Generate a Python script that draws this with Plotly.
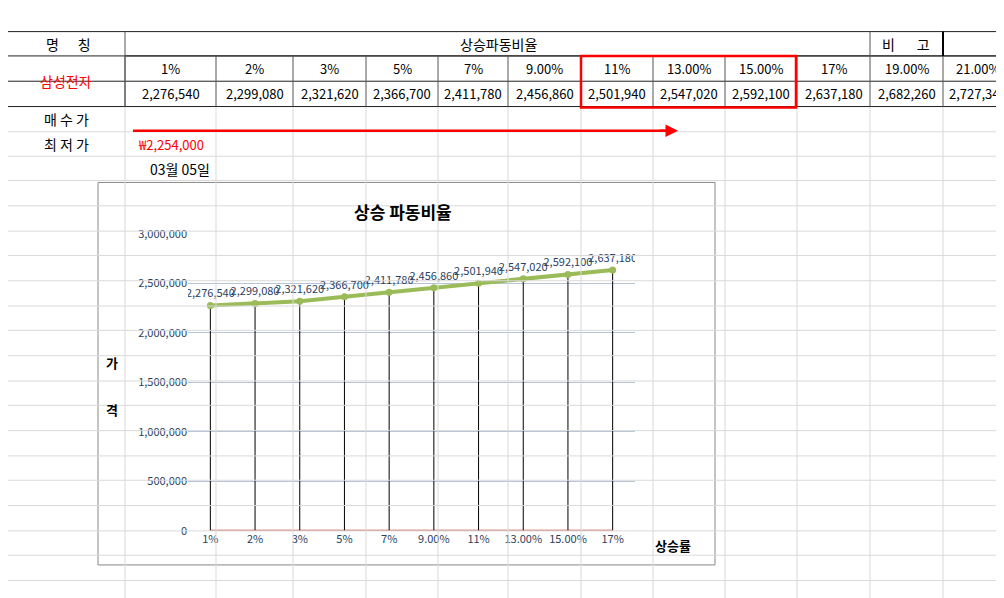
import plotly.graph_objects as go

W, H = 1004, 598

# chart data
categories = ["1%", "2%", "3%", "5%", "7%", "9.00%", "11%", "13.00%", "15.00%", "17%"]
prices = [2276540, 2299080, 2321620, 2366700, 2411780, 2456860, 2501940, 2547020, 2592100, 2637180]

# spreadsheet data
table_rates = ["1%", "2%", "3%", "5%", "7%", "9.00%", "11%", "13.00%", "15.00%", "17%", "19.00%", "21.00%"]
table_prices = ["2,276,540", "2,299,080", "2,321,620", "2,366,700", "2,411,780", "2,456,860",
                "2,501,940", "2,547,020", "2,592,100", "2,637,180", "2,682,260", "2,727,340"]
col_edges = [0, 117, 208, 285, 358, 430, 500, 573, 645, 717, 789, 862, 935, 1004]
row_edges = [15, 40, 66, 92, 118, 143, 168, 194, 220, 245, 271, 297, 322, 348,
             374, 399, 425, 451, 476, 502, 528, 553, 579]

FONT = "Noto Sans CJK KR, Malgun Gothic, sans-serif"


def px(x):
    return x / W


def py(y):
    return 1 - y / H


shapes = []
annotations = []


def line(x0, y0, x1, y1, color, width=1):
    shapes.append(dict(type="line", xref="paper", yref="paper", x0=px(x0), y0=py(y0),
                       x1=px(x1), y1=py(y1), line=dict(color=color, width=width)))


def text(x, y, s, color="black", size=14, xanchor="center", bold=False):
    annotations.append(dict(xref="paper", yref="paper", x=px(x), y=py(y), text=f"<b>{s}</b>" if bold else s,
                            showarrow=False, xanchor=xanchor, yanchor="middle",
                            font=dict(color=color, size=size, family=FONT)))


# light sheet grid
for y in row_edges[3:]:
    line(0, y, W, y, "#d9d9d9")
for x in col_edges[1:]:
    line(x, 92, x, H, "#d9d9d9")

# table lines
for y in [15, 40, 66, 92]:
    line(0, y, W, y, "#222", 1)
line(117, 40, W, 40, "#222", 1)
for x in col_edges[1:-1]:
    line(x, 40, x, 92, "#555", 1)
line(117, 15, 117, 92, "#555", 1)
line(862, 15, 862, 40, "#555", 1)
line(935, 15, 935, 40, "#000", 2)

# headers
text(60, 28, "명      칭", size=14)
text(490, 28, "상승파동비율", size=14)
text(898, 28, "비       고", size=14)
text(58, 66, "삼성전자", color="red", size=14)
for i, (r, p) in enumerate(zip(table_rates, table_prices)):
    cx = (col_edges[i + 1] + col_edges[i + 2]) / 2
    text(cx, 53, r, size=13)
    text(cx, 79, p, size=13)
text(58, 105, "매 수 가", size=14)
text(58, 131, "최 저 가", size=14)
text(128, 131, "₩2,254,000", color="red", size=13, xanchor="left")
text(140, 156, "03월 05일", size=14, xanchor="left")

# red highlight box and arrow
shapes.append(dict(type="rect", xref="paper", yref="paper", x0=px(573), x1=px(788), y0=py(40), y1=py(93),
                   line=dict(color="red", width=2.5)))
line(125, 117, 660, 117, "red", 2.5)
annotations.append(dict(xref="paper", yref="paper", axref="pixel", ayref="pixel",
                        x=px(670), y=py(117), ax=-20, ay=0, text="", showarrow=True,
                        arrowhead=2, arrowsize=1, arrowwidth=2.5, arrowcolor="red"))

# chart box
shapes.append(dict(type="rect", xref="paper", yref="paper", x0=px(90), x1=px(707), y0=py(170), y1=py(563),
                   fillcolor="white", line=dict(color="#888", width=1), layer="below"))
text(395, 200, "상승 파동비율", size=17, bold=True)
text(104, 355, "가", size=13, bold=True)
text(104, 403, "격", size=13, bold=True)
text(665, 543, "상승률", size=13, bold=True)

fig = go.Figure()
fig.add_trace(go.Scatter(x=categories, y=[0] * len(categories), mode="lines",
                         line=dict(color="#c0392b", width=2), hoverinfo="skip"))
fig.add_trace(go.Scatter(
    x=categories, y=prices, mode="lines+markers+text",
    line=dict(color="#9bbb59", width=4), marker=dict(color="#9bbb59", size=7),
    text=[f"{v:,}" for v in prices], textposition="top center",
    textfont=dict(size=11, family=FONT),
    error_y=dict(type="data", symmetric=False, array=[0] * len(prices), arrayminus=prices,
                 color="black", thickness=1, width=0),
))

fig.update_layout(
    width=W, height=H, margin=dict(l=0, r=0, t=0, b=0),
    paper_bgcolor="white", plot_bgcolor="rgba(0,0,0,0)", showlegend=False,
    font=dict(family=FONT),
    shapes=shapes, annotations=annotations,
    xaxis=dict(domain=[px(180), px(627)], showgrid=False, ticks="", showline=False,
               tickfont=dict(size=11), range=[-0.5, 9.5]),
    yaxis=dict(domain=[py(528), py(223)], range=[0, 3000000], dtick=500000, tickformat=",",
               showgrid=True, gridcolor="#b8c4d8", tickfont=dict(size=11), zeroline=False,
               showline=False),
)

fig.write_html("out.html")
